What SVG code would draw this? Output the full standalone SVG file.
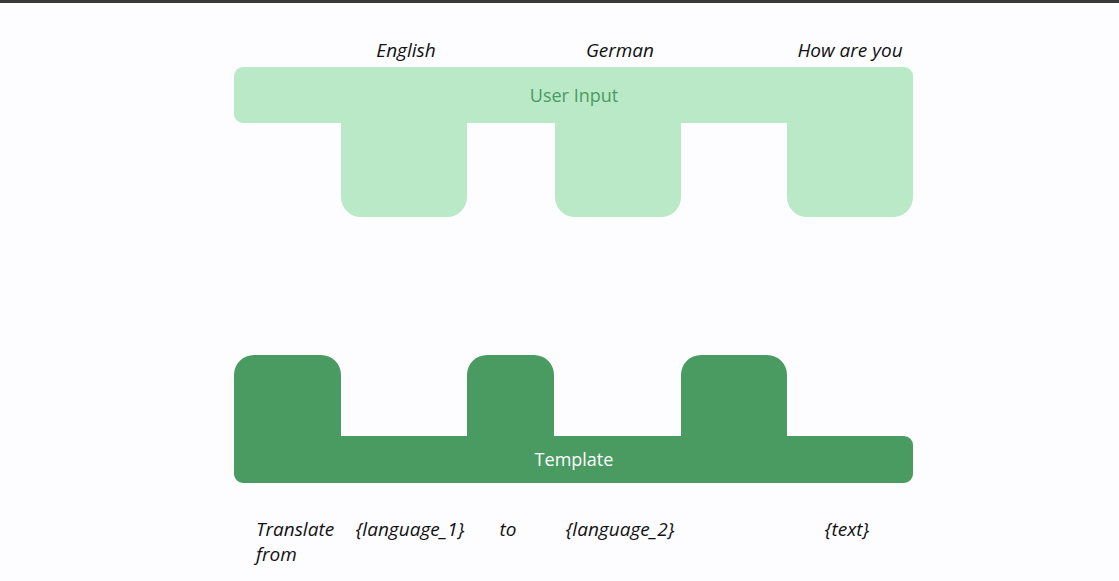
<svg xmlns="http://www.w3.org/2000/svg" width="1119" height="581" viewBox="0 0 1119 581">
<style>
.lbl{font-family:"Open Sans","Liberation Sans",sans-serif;font-style:italic;font-size:19px;fill:#111}
.title{font-family:"Open Sans","Liberation Sans",sans-serif;font-size:18px;text-anchor:middle}
</style>
<rect width="1119" height="581" fill="#fdfcff"/>
<rect width="1119" height="3" fill="#3a3a3a"/>
<g id="user-input">
<path d="M243 67H904A9 9 0 0 1 913 76V197A20 20 0 0 1 893 217H807A20 20 0 0 1 787 197V123H681V197A20 20 0 0 1 661 217H575A20 20 0 0 1 555 197V123H467V197A20 20 0 0 1 447 217H361A20 20 0 0 1 341 197V123H243A9 9 0 0 1 234 114V76A9 9 0 0 1 243 67Z" fill="#b9e9c7"/>
<text class="title" x="574" y="102" fill="#4a9b62">User Input</text>
</g>
<g id="template">
<path d="M254 355H321A20 20 0 0 1 341 375V436H467V375A20 20 0 0 1 487 355H534A20 20 0 0 1 554 375V436H681V375A20 20 0 0 1 701 355H767A20 20 0 0 1 787 375V436H904A9 9 0 0 1 913 445V474A9 9 0 0 1 904 483H243A9 9 0 0 1 234 474V375A20 20 0 0 1 254 355Z" fill="#4a9b62"/>
<text class="title" x="574" y="466" fill="#ffffff">Template</text>
</g>
<g id="input-labels">
<text class="lbl" x="406" y="57" text-anchor="middle">English</text>
<text class="lbl" x="620" y="57" text-anchor="middle">German</text>
<text class="lbl" x="850" y="57" text-anchor="middle">How are you</text>
</g>
<g id="template-labels">
<text class="lbl" x="256" y="536">Translate</text>
<text class="lbl" x="256" y="561">from</text>
<text class="lbl" x="410" y="536" text-anchor="middle">{language_1}</text>
<text class="lbl" x="508" y="536" text-anchor="middle">to</text>
<text class="lbl" x="620" y="536" text-anchor="middle">{language_2}</text>
<text class="lbl" x="847" y="536" text-anchor="middle">{text}</text>
</g>
<g id="connectors"></g>
</svg>
